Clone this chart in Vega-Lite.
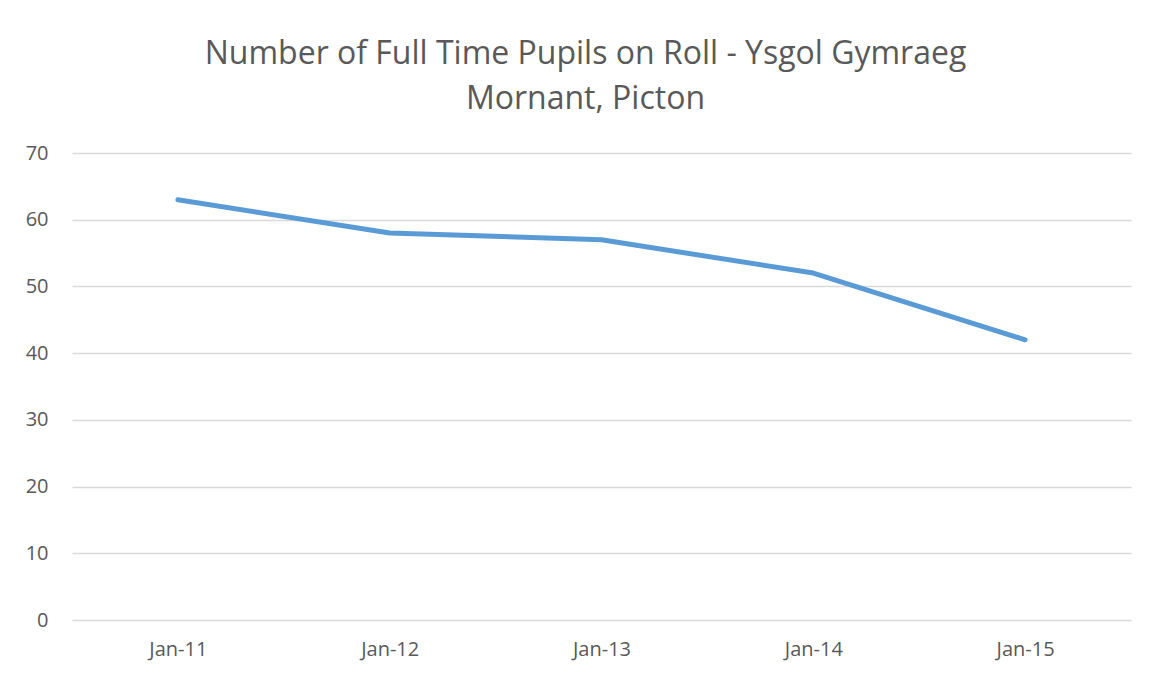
{
  "$schema": "https://vega.github.io/schema/vega-lite/v6.json",
  "width": 1059,
  "height": 467,
  "autosize": {"type": "none"},
  "padding": {"left": 72, "top": 153, "right": 29, "bottom": 55},
  "background": "white",
  "config": {"view": {"stroke": null}, "font": "Open Sans"},
  "title": {
    "text": ["Number of Full Time Pupils on Roll - Ysgol Gymraeg", "Mornant, Picton"],
    "fontSize": 32,
    "font": "Open Sans",
    "fontWeight": "normal",
    "color": "#595959",
    "lineHeight": 45,
    "anchor": "middle",
    "dx": -16,
    "offset": 27
  },
  "data": {
    "values": [
      {"date": "Jan-11", "pupils": 63},
      {"date": "Jan-12", "pupils": 58},
      {"date": "Jan-13", "pupils": 57},
      {"date": "Jan-14", "pupils": 52},
      {"date": "Jan-15", "pupils": 42}
    ]
  },
  "mark": {"type": "line", "color": "#5B9BD5", "strokeWidth": 5, "strokeCap": "round", "strokeJoin": "round"},
  "encoding": {
    "x": {
      "field": "date",
      "type": "ordinal",
      "sort": null,
      "scale": {"type": "point", "padding": 0.5},
      "axis": {
        "title": null,
        "labelAngle": 0,
        "labelFontSize": 20,
        "labelColor": "#595959",
        "labelPadding": 19,
        "ticks": false,
        "domain": false,
        "grid": false
      }
    },
    "y": {
      "field": "pupils",
      "type": "quantitative",
      "scale": {"domain": [0, 70]},
      "axis": {
        "title": null,
        "values": [0, 10, 20, 30, 40, 50, 60, 70],
        "labelFontSize": 20,
        "labelColor": "#595959",
        "labelPadding": 24,
        "ticks": false,
        "domain": false,
        "gridColor": "#D9D9D9",
        "gridWidth": 1.5
      }
    }
  }
}
